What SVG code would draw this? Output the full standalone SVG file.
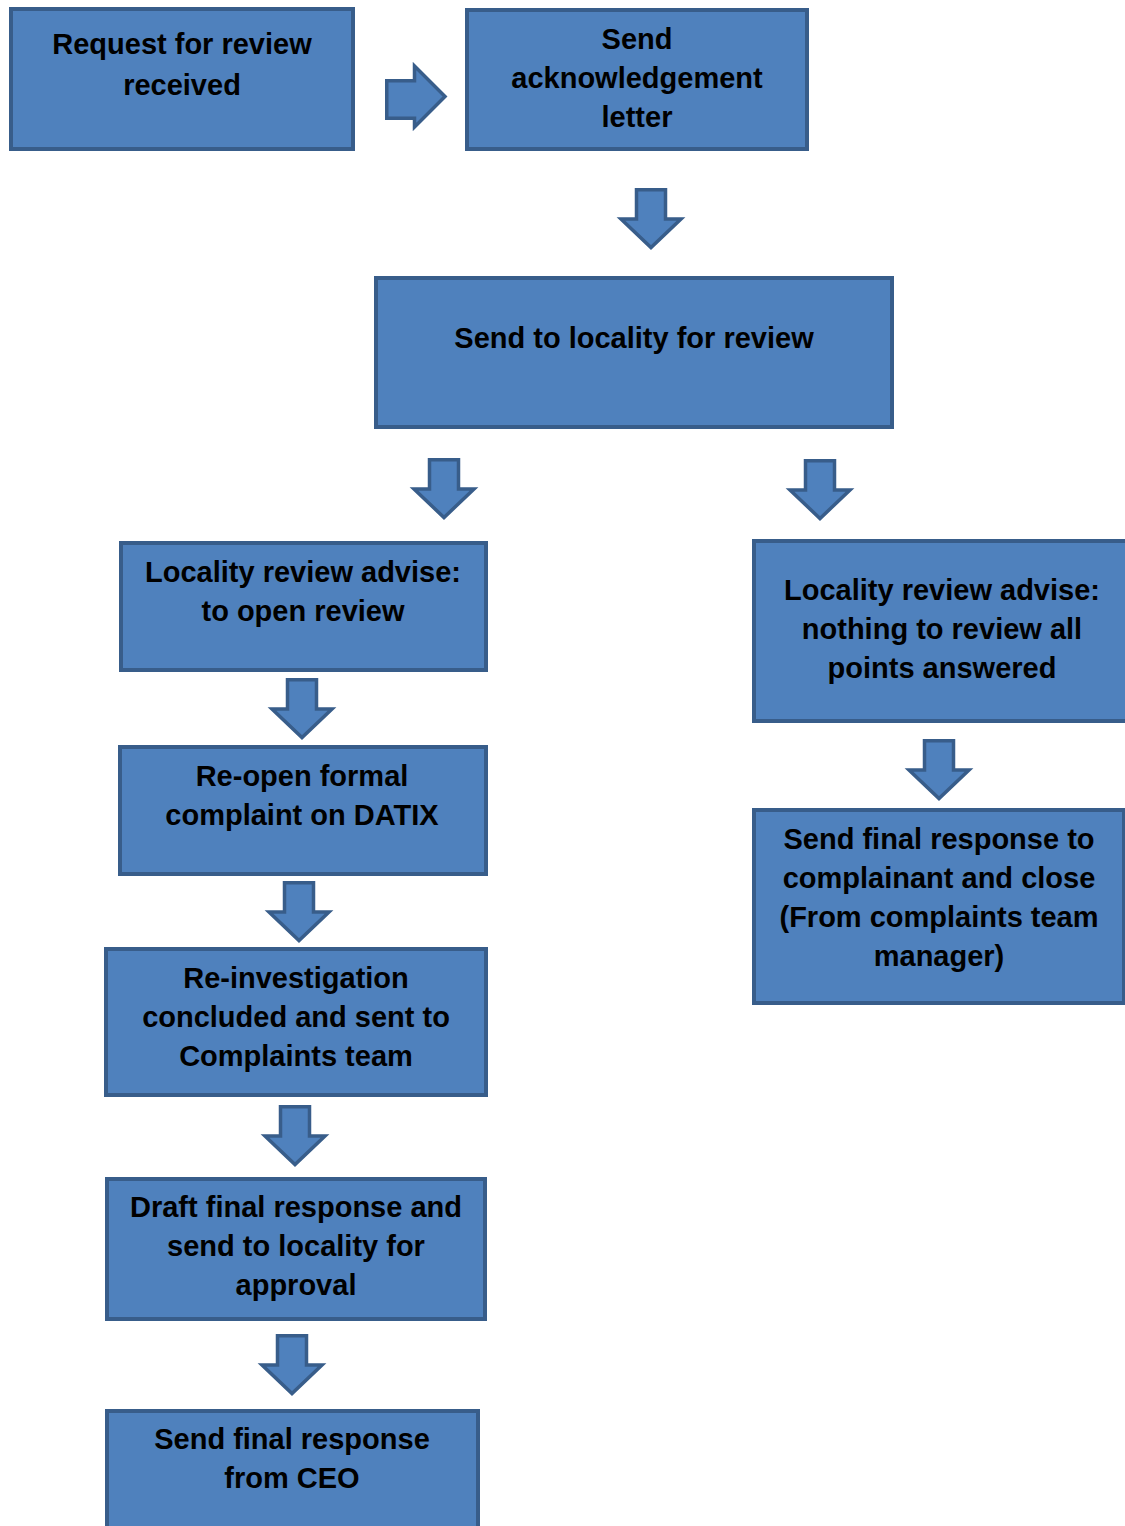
<svg xmlns="http://www.w3.org/2000/svg" xmlns:xlink="http://www.w3.org/1999/xlink" width="1125" height="1526" viewBox="0 0 1125 1526">
<style>
.box{fill:#4F81BD;stroke:#385D8A;stroke-width:4}
.arr{fill:#4F81BD;stroke:#385D8A;stroke-width:3.5;stroke-linejoin:miter}
.t{font-family:"Liberation Sans",Arial,sans-serif;font-weight:bold;font-size:29px;fill:#000;text-anchor:middle}
</style>
<defs>
<path id="down" d="M17.5,1.75 H46.5 V31 H62 L32,59.5 L2,31 H17.5 Z"/>
</defs>
<rect width="1125" height="1526" fill="#fff"/>
<g id="connectors">
<path class="arr" d="M386.75,80.75 H414.5 V66 L445,96.5 L414.5,127 V118.25 H386.75 Z"/>
<use xlink:href="#down" href="#down" class="arr" x="619" y="188"/>
<use xlink:href="#down" href="#down" class="arr" x="412" y="458"/>
<use xlink:href="#down" href="#down" class="arr" x="788" y="459"/>
<use xlink:href="#down" href="#down" class="arr" x="270" y="678"/>
<use xlink:href="#down" href="#down" class="arr" x="267" y="881"/>
<use xlink:href="#down" href="#down" class="arr" x="263" y="1105"/>
<use xlink:href="#down" href="#down" class="arr" x="260" y="1334"/>
<use xlink:href="#down" href="#down" class="arr" x="907" y="739"/>
</g>
<g id="n1"><rect class="box" x="11" y="9" width="342" height="140"/>
<text class="t" x="182" y="54">Request for review</text><text class="t" x="182" y="95">received</text></g>
<g id="n2"><rect class="box" x="467" y="10" width="340" height="139"/>
<text class="t" x="637" y="49">Send</text><text class="t" x="637" y="88">acknowledgement</text><text class="t" x="637" y="127">letter</text></g>
<g id="n3"><rect class="box" x="376" y="278" width="516" height="149"/>
<text class="t" x="634" y="348">Send to locality for review</text></g>
<g id="n4"><rect class="box" x="121" y="543" width="365" height="127"/>
<text class="t" x="303" y="582">Locality review advise:</text><text class="t" x="303" y="621">to open review</text></g>
<g id="n5"><rect class="box" x="754" y="541" width="380" height="180"/>
<text class="t" x="942" y="600">Locality review advise:</text><text class="t" x="942" y="639">nothing to review all</text><text class="t" x="942" y="678">points answered</text></g>
<g id="n6"><rect class="box" x="120" y="747" width="366" height="127"/>
<text class="t" x="302" y="786">Re-open formal</text><text class="t" x="302" y="825">complaint on DATIX</text></g>
<g id="n7"><rect class="box" x="754" y="810" width="370" height="193"/>
<text class="t" x="939" y="849">Send final response to</text><text class="t" x="939" y="888">complainant and close</text><text class="t" x="939" y="927">(From complaints team</text><text class="t" x="939" y="966">manager)</text></g>
<g id="n8"><rect class="box" x="106" y="949" width="380" height="146"/>
<text class="t" x="296" y="988">Re-investigation</text><text class="t" x="296" y="1027">concluded and sent to</text><text class="t" x="296" y="1066">Complaints team</text></g>
<g id="n9"><rect class="box" x="107" y="1179" width="378" height="140"/>
<text class="t" x="296" y="1217">Draft final response and</text><text class="t" x="296" y="1256">send to locality for</text><text class="t" x="296" y="1295">approval</text></g>
<g id="n10"><rect class="box" x="107" y="1411" width="371" height="130"/>
<text class="t" x="292" y="1449">Send final response</text><text class="t" x="292" y="1488">from CEO</text></g>
</svg>
